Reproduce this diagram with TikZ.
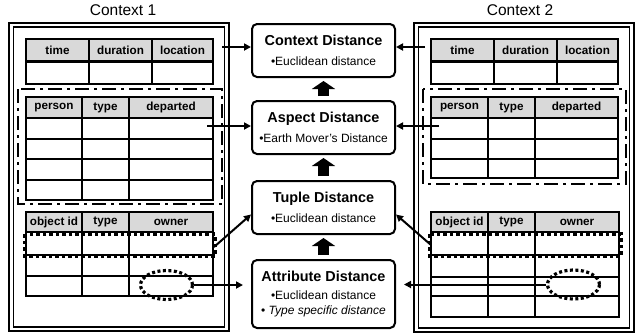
\documentclass[tikz,border=0pt]{standalone}
\usepackage{fontspec}
\setmainfont{Liberation Sans}
\usetikzlibrary{arrows.meta, positioning, shapes.geometric, calc}
\definecolor{headgray}{HTML}{D9D9D9}

\begin{document}
\begin{tikzpicture}[
    x=1pt, y=-1pt,
    frameout/.style={draw, line width=2.2pt},
    framein/.style={draw, line width=1.1pt},
    hcell/.style={draw, line width=1.8pt, fill=headgray, inner sep=0, outer sep=0, anchor=north west, minimum height=22pt, font=\fontsize{11.7}{12}\selectfont\bfseries},
    cellline/.style={line width=1.8pt},
    aspectline/.style={line width=2.6pt, dash pattern=on 14pt off 5pt on 3pt off 5pt},
    tupleline/.style={line width=3.5pt, dash pattern=on 3.5pt off 3pt},
    attrmark/.style={draw, ellipse, line width=3.2pt, dash pattern=on 3pt off 2.5pt, minimum width=52pt, minimum height=29pt, inner sep=0},
    dist/.style={draw, line width=2pt, rounded corners=5pt, fill=white, minimum width=143pt, minimum height=53pt, inner sep=0, align=center, font=\fontsize{12}{20}\selectfont},
    link/.style={-{Triangle[length=7pt, width=7pt]}, line width=2pt},
    fat/.style={-{Triangle[length=8pt, width=23pt]}, line width=11pt, shorten >=3pt, shorten <=4pt},
]
    \useasboundingbox (0,0) rectangle (637,333);

    % Context labels
    \node[font=\fontsize{15.5}{16}\selectfont] (lab1) at (123,10) {Context 1};
    \node[font=\fontsize{15.5}{16}\selectfont] (lab2) at (520,10) {Context 2};

    % Context frames
    \draw[frameout] (9,23) rectangle (229,331);
    \draw[framein] (13.5,27) rectangle (224.5,327);
    \draw[frameout] (414,23) rectangle (634,332);
    \draw[framein] (418.5,27) rectangle (629.5,328);

    % Context 1: time table
    \node[hcell, minimum width=63pt] (t1time) at (26,39) {time};
    \node[hcell, minimum width=63pt] (t1dur) at (89,39) {duration};
    \node[hcell, minimum width=61pt] (t1loc) at (152,39) {location};
    \draw[cellline] (26,62) rectangle (213,84) (89,62) -- (89,84) (152,62) -- (152,84);

    % Context 1: person table
    \node[hcell, minimum width=56pt, minimum height=21pt] (p1per) at (26,97) {person};
    \node[hcell, minimum width=47pt, minimum height=21pt] (p1type) at (82,97) {type};
    \node[hcell, minimum width=84pt, minimum height=21pt] (p1dep) at (129,97) {departed};
    \draw[cellline] (26,118) rectangle (213,200) (82,118) -- (82,200) (129,118) -- (129,200);
    \foreach \y in {139,159,180}
        \draw[cellline] (26,\y) -- (213,\y);
    \draw[aspectline] (18,89) rectangle (222,204);

    % Context 1: object table
    \node[hcell, minimum width=56pt, minimum height=20pt] (o1id) at (26,212) {object id};
    \node[hcell, minimum width=47pt, minimum height=20pt] (o1type) at (82,212) {type};
    \node[hcell, minimum width=84pt, minimum height=20pt] (o1own) at (129,212) {owner};
    \draw[cellline] (26,232) rectangle (213,296) (82,232) -- (82,296) (129,232) -- (129,296);
    \foreach \y in {255,276}
        \draw[cellline] (26,\y) -- (213,\y);
    \draw[tupleline] (25,234) rectangle (215,256);
    \node[attrmark] (a1) at (166.5,285) {};

    % Context 2: time table
    \node[hcell, minimum width=63pt] (t2time) at (431,39) {time};
    \node[hcell, minimum width=63pt] (t2dur) at (494,39) {duration};
    \node[hcell, minimum width=61pt] (t2loc) at (557,39) {location};
    \draw[cellline] (431,62) rectangle (618,84) (494,62) -- (494,84) (557,62) -- (557,84);

    % Context 2: person table
    \node[hcell, minimum width=57pt, minimum height=21pt] (p2per) at (431,97) {person};
    \node[hcell, minimum width=47pt, minimum height=21pt] (p2type) at (488,97) {type};
    \node[hcell, minimum width=83pt, minimum height=21pt] (p2dep) at (535,97) {departed};
    \draw[cellline] (431,118) rectangle (618,178) (488,118) -- (488,178) (535,118) -- (535,178);
    \foreach \y in {139,159}
        \draw[cellline] (431,\y) -- (618,\y);
    \draw[aspectline] (423,89) rectangle (626,184);

    % Context 2: object table
    \node[hcell, minimum width=57pt, minimum height=20pt] (o2id) at (431,212) {object id};
    \node[hcell, minimum width=47pt, minimum height=20pt] (o2type) at (488,212) {type};
    \node[hcell, minimum width=84pt, minimum height=20pt] (o2own) at (535,212) {owner};
    \draw[cellline] (431,232) rectangle (619,317) (488,232) -- (488,317) (535,232) -- (535,317);
    \foreach \y in {255,277,296}
        \draw[cellline] (431,\y) -- (619,\y);
    \draw[tupleline] (430,234) rectangle (621,256);
    \node[attrmark] (a2) at (573.5,284.5) {};

    % Distance measures
    \node[dist] (ctx) at (323.5,50.5) {{\fontsize{14.4}{20}\selectfont\bfseries Context Distance}\\\textbullet Euclidean distance};
    \node[dist] (asp) at (323.5,127.5) {{\fontsize{14.4}{20}\selectfont\bfseries Aspect Distance}\\\textbullet Earth Mover's Distance};
    \node[dist] (tup) at (323.5,207.5) {{\fontsize{14.4}{20}\selectfont\bfseries Tuple Distance}\\\textbullet Euclidean distance};
    \node[dist, minimum height=68pt, font=\fontsize{12}{18}\selectfont] (attr) at (323.5,294) {{\fontsize{14.4}{18}\selectfont\bfseries Attribute Distance}\\\textbullet Euclidean distance\\[-3pt]\textbullet\ \textit{Type specific distance}};

    \draw[fat] (asp) -- (ctx);
    \draw[fat] (tup) -- (asp);
    \draw[fat] (attr) -- (tup);

    % Links from context 1
    \coordinate (c1t) at (222,47);
    \coordinate (c1p) at (207,126);
    \coordinate (c1o) at (214,247);
    \draw[link] (c1t) -- (c1t -| ctx.west);
    \draw[link] (c1p) -- (c1p -| asp.west);
    \draw[link] (c1o) -- ([yshift=-7pt]tup.west);
    \draw[link, shorten >=8pt] (a1.east) -- (a1.east -| attr.west);

    % Links from context 2
    \coordinate (c2t) at (425,47);
    \coordinate (c2p) at (439,126);
    \coordinate (c2o) at (431,245);
    \draw[link] (c2t) -- (c2t -| ctx.east);
    \draw[link] (c2p) -- (c2p -| asp.east);
    \draw[link] (c2o) -- ([yshift=-7pt]tup.east);
    \draw[link, shorten >=8pt] (a2.west) -- (a2.west -| attr.east);
\end{tikzpicture}
\end{document}
